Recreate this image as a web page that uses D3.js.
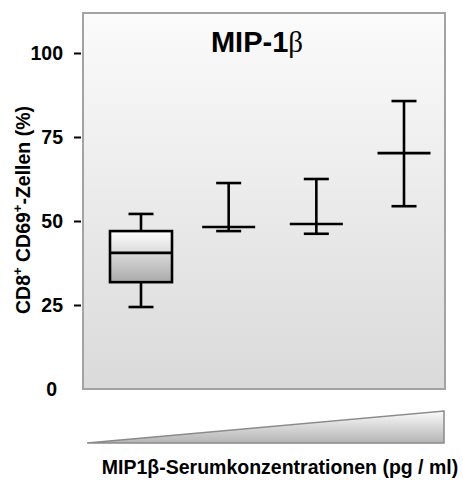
<!DOCTYPE html>
<html>
<head>
<meta charset="utf-8">
<script src="https://cdn.jsdelivr.net/npm/d3@7"></script>
<style>
  body { margin: 0; background: #fff; }
  text { font-family: "Liberation Sans", Arial, sans-serif; font-weight: bold; fill: #000; }
</style>
</head>
<body>
<div id="chart"></div>
<script>
// groups of rising MIP-1b serum concentration (no labels in the figure)
var groups = ["g1", "g2", "g3", "g4"];
var median = [40.5, 48.2, 49.1, 70.2];
var whiskerHigh = [52.1, 61.3, 62.5, 85.7];
var whiskerLow = [24.4, 47.0, 46.2, 54.4];
var boxQ1 = [31.8, null, null, null];
var boxQ3 = [47.0, null, null, null];
var yTicks = [0, 25, 50, 75, 100];

var width = 463, height = 480;
var panel = { left: 83, top: 13, right: 445, bottom: 389 };

var svg = d3.select("#chart")
  .append("svg")
  .attr("width", width)
  .attr("height", height);

var defs = svg.append("defs");
function vGrad(id, c0, c1) {
  var g = defs.append("linearGradient").attr("id", id)
    .attr("x1", 0).attr("y1", 0).attr("x2", 0).attr("y2", 1);
  g.append("stop").attr("offset", "0%").attr("stop-color", c0);
  g.append("stop").attr("offset", "100%").attr("stop-color", c1);
}
vGrad("panelGrad", "#fbfbfb", "#dadada");
vGrad("boxGrad", "#ffffff", "#a9a9a9");
vGrad("triGrad", "#fbfbfb", "#b4b4b4");

var y = d3.scaleLinear()
  .domain([0, 100])
  .range([panel.bottom, 53]);

var x = d3.scalePoint()
  .domain(groups)
  .range([141, 404]);

// background panel
svg.append("rect")
  .attr("x", panel.left)
  .attr("y", panel.top)
  .attr("width", panel.right - panel.left)
  .attr("height", panel.bottom - panel.top)
  .attr("fill", "url(#panelGrad)")
  .attr("stroke", "#a3a3a3")
  .attr("stroke-width", 2);

// Y axis: ticks + labels
var yAxis = svg.append("g")
  .attr("transform", "translate(" + (panel.left - 2) + ",0)")
  .call(d3.axisLeft(y).tickValues(yTicks).tickSize(7).tickPadding(11));
yAxis.select(".domain").remove();
yAxis.selectAll(".tick line")
  .attr("stroke", "#000")
  .attr("stroke-width", 2)
  .attr("opacity", function(d) { return d === 0 ? 0 : 1; });
yAxis.selectAll(".tick text")
  .attr("dx", function(d) { return d === 0 ? -6 : 0; })
  .style("font-size", "19.5px")
  .style("font-weight", "bold")
  .style("font-family", "'Liberation Sans', Arial, sans-serif");

// title (beta set in a thin serif like the original)
var title = svg.append("text")
  .attr("x", 257)
  .attr("y", 52)
  .attr("text-anchor", "middle")
  .style("font-size", "29px");
title.append("tspan").text("MIP-1");
title.append("tspan")
  .style("font-family", "'Liberation Serif', 'DejaVu Serif', serif")
  .style("font-weight", "normal")
  .text("β");

// whiskers and medians
var lw = 2.6;
var rows = groups.map(function(g, i) {
  return { g: g, med: median[i], hi: whiskerHigh[i], lo: whiskerLow[i], q1: boxQ1[i], q3: boxQ3[i] };
});

var marks = svg.append("g").attr("stroke", "#000").attr("stroke-width", lw);

marks.selectAll(".stem")
  .data(rows)
  .enter().append("line")
  .attr("x1", function(d) { return x(d.g); })
  .attr("x2", function(d) { return x(d.g); })
  .attr("y1", function(d) { return y(d.hi); })
  .attr("y2", function(d) { return y(d.lo); });

marks.selectAll(".capHi")
  .data(rows)
  .enter().append("line")
  .attr("x1", function(d) { return x(d.g) - 12.5; })
  .attr("x2", function(d) { return x(d.g) + 12.5; })
  .attr("y1", function(d) { return y(d.hi); })
  .attr("y2", function(d) { return y(d.hi); });

marks.selectAll(".capLo")
  .data(rows)
  .enter().append("line")
  .attr("x1", function(d) { return x(d.g) - 12.5; })
  .attr("x2", function(d) { return x(d.g) + 12.5; })
  .attr("y1", function(d) { return y(d.lo); })
  .attr("y2", function(d) { return y(d.lo); });

// box (only first group)
marks.selectAll(".box")
  .data(rows.filter(function(d) { return d.q1 != null; }))
  .enter().append("rect")
  .attr("x", function(d) { return x(d.g) - 31; })
  .attr("width", 62)
  .attr("y", function(d) { return y(d.q3); })
  .attr("height", function(d) { return y(d.q1) - y(d.q3); })
  .attr("fill", "url(#boxGrad)");

marks.selectAll(".median")
  .data(rows)
  .enter().append("line")
  .attr("x1", function(d) { return x(d.g) - (d.q1 != null ? 31 : 26.5); })
  .attr("x2", function(d) { return x(d.g) + (d.q1 != null ? 31 : 26.5); })
  .attr("y1", function(d) { return y(d.med); })
  .attr("y2", function(d) { return y(d.med); });

// rising concentration wedge
svg.append("path")
  .attr("d", "M87,443 L444,411 L444,443 Z")
  .attr("fill", "url(#triGrad)")
  .attr("stroke", "#8a8a8a")
  .attr("stroke-width", 1.5)
  .attr("stroke-linejoin", "miter");

// x label
svg.append("text")
  .attr("x", 280)
  .attr("y", 474)
  .attr("text-anchor", "middle")
  .style("font-size", "19.5px")
  .text("MIP1β-Serumkonzentrationen (pg / ml)");

// y label
var yl = svg.append("text")
  .attr("transform", "translate(30,210) rotate(-90)")
  .attr("text-anchor", "middle")
  .style("font-size", "19.5px");
yl.append("tspan").text("CD8");
yl.append("tspan").attr("dy", -8).style("font-size", "13px").text("+");
yl.append("tspan").attr("dy", 8).text(" CD69");
yl.append("tspan").attr("dy", -8).style("font-size", "13px").text("+");
yl.append("tspan").attr("dy", 8).text("-Zellen (%)");
</script>
</body>
</html>
